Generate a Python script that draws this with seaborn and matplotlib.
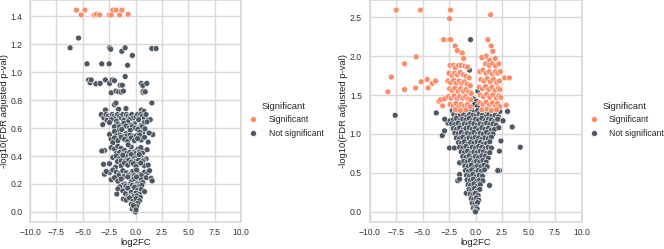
import numpy as np
import pandas as pd
import seaborn as sns
import matplotlib.pyplot as plt
from matplotlib.ticker import MultipleLocator

# ---- left panel data ----
left_sig_fc = [-5.6, -5.15, -4.8, -3.9, -3.7, -3.4, -2.5, -2.3, -2.15, -1.85, -1.5, -1.3, -0.7]
left_sig_p = [1.445, 1.41, 1.445, 1.41, 1.415, 1.41, 1.41, 1.41, 1.445, 1.445, 1.41, 1.445, 1.415]

left_ns_fc = [
    -6.2, -5.4, -4.6, -3.2, -2.5, -2.45, -2.35, -1.3, -0.98, -0.75, -0.3, 1.55, 1.95,
    -4.45, -4.3, -4.2, -3.75, -3.35, -2.85, -2.45, -2.2, -2.0, -1.45, -1.25, -0.98, 0.55, 0.7, 1.07,
    -2.3, -1.85, -1.6, -1.35, -1.15, 0.7, 0.75, 0.92,
    -2.0, -1.85, 1.55, -2.85, 0.55, 0.8, -1.6, -0.9,
    -3.25, -3.0, -2.8, -2.6, -2.4, -2.2, -2.05, -1.9, -1.7, -1.5, -1.35, -1.2, -1.0, -0.85, -0.7, -0.5,
    -0.35, -0.2, 0.05, 0.2, 0.35, 0.5, 0.65, 0.85, 1.0, 1.2, 1.4, -2.7, -2.3, -1.8, -1.1, -0.6, 0.3,
    -3.1, -2.46, -1.67, -1.36, -0.73, -0.09, 0.54, 0.85, -2.0, -1.1, -0.4, 0.2, 1.1,
    -1.5, -1.2, -0.9, -0.6, -0.3, 0.0, 0.3, 0.6,
    -2.46, -1.67, 0.22, 0.7, 1.64, -2.0, -1.3, -0.9, -0.5, 0.4, 0.9, 1.3,
    -1.8, -1.45, -1.15, -0.8, -0.5, -0.2, 0.1, 0.4,
    -2.31, -1.99, -1.67, -1.36, -1.04, -0.73, -0.41, 0.54, 0.85, -2.15, -0.1, 0.2, 1.2,
    -2.94, -2.31, -1.99, -1.67, -1.36, -1.04, -0.41, 0.22, 0.85, -3.19, -0.7, -0.1, 0.5, 1.1,
    -1.8, -1.5, -1.2, -0.85, -0.55, -0.25, 0.05, 0.35, 0.65,
    -2.15, -1.83, -1.52, -0.88, -0.41, -0.09, 0.22, 0.54, 1.01, -1.2, -0.6, 0.35, 0.75,
    -1.7, -1.35, -1.0, -0.65, -0.3, 0.0, 0.3, 0.65,
    -3.03, -2.46, -1.36, -1.04, -0.73, -0.41, 0.22, 0.85, -1.9, -0.2, 0.05, 0.5, 1.2,
    -2.94, -2.46, -2.78, -2.15, -1.83, -1.52, -1.2, -0.88, -0.25, 0.38, 0.85, 1.17, 1.33, -0.55, 0.1,
    -1.6, -1.05, -0.7, -0.4, -0.1, 0.2, 0.55,
    -2.31, -1.99, -1.67, -1.36, -1.04, -0.73, -0.41, -0.09, 0.22, 0.54, 1.01, 1.48, 1.58, -1.2, -0.55, 0.1, 0.4, 0.7,
    -1.5, -0.9, -0.6, -0.3, 0.0, 0.3, 0.6,
    -1.77, -1.67, -1.2, -0.73, -0.41, -0.09, 0.22, 0.54, 0.85, -0.95, -0.25, 0.05, 0.38,
    -0.7, -0.5, -0.15, 0.15, 0.45,
    -1.14, -0.88, -0.57, -0.25, 0.06, 0.38, -0.4, 0.2, -0.31, 0.0, -0.1, 0.1, -0.2, 0.05,
]
left_ns_p = [
    1.175, 1.245, 1.06, 1.06, 1.06, 1.175, 1.165, 1.15, 1.175, 1.05, 1.12, 1.17, 1.17,
    0.945, 0.925, 0.945, 0.917, 0.92, 0.945, 0.92, 0.945, 0.94, 0.907, 0.907, 0.969, 0.92, 0.905, 0.92,
    0.853, 0.865, 0.86, 0.858, 0.865, 0.855, 0.865, 0.86,
    0.768, 0.78, 0.78, 0.73, 0.73, 0.72, 0.735, 0.74,
    0.697, 0.673, 0.697, 0.685, 0.673, 0.697, 0.685, 0.673, 0.697, 0.685, 0.673, 0.697, 0.673, 0.697, 0.685, 0.673,
    0.697, 0.673, 0.685, 0.697, 0.673, 0.697, 0.685, 0.673, 0.697, 0.66, 0.66, 0.655, 0.66, 0.65, 0.655, 0.66, 0.66,
    0.625, 0.64, 0.63, 0.62, 0.645, 0.63, 0.62, 0.64, 0.61, 0.635, 0.62, 0.605, 0.645,
    0.61, 0.6, 0.615, 0.6, 0.61, 0.6, 0.6, 0.61,
    0.554, 0.58, 0.59, 0.57, 0.554, 0.575, 0.59, 0.56, 0.585, 0.57, 0.595, 0.565,
    0.545, 0.55, 0.54, 0.545, 0.55, 0.54, 0.545, 0.55,
    0.52, 0.53, 0.51, 0.535, 0.52, 0.505, 0.53, 0.515, 0.535, 0.495, 0.51, 0.525, 0.5,
    0.44, 0.46, 0.45, 0.47, 0.455, 0.44, 0.465, 0.45, 0.44, 0.436, 0.48, 0.43, 0.46, 0.445,
    0.42, 0.425, 0.415, 0.42, 0.425, 0.415, 0.42, 0.425, 0.42,
    0.39, 0.4, 0.38, 0.395, 0.41, 0.385, 0.4, 0.39, 0.38, 0.405, 0.375, 0.41, 0.37,
    0.36, 0.365, 0.36, 0.37, 0.365, 0.36, 0.37, 0.36,
    0.341, 0.345, 0.33, 0.35, 0.335, 0.355, 0.34, 0.33, 0.32, 0.345, 0.325, 0.35, 0.335,
    0.27, 0.282, 0.29, 0.3, 0.285, 0.275, 0.295, 0.28, 0.29, 0.27, 0.285, 0.282, 0.295, 0.265, 0.3,
    0.26, 0.255, 0.26, 0.25, 0.26, 0.255, 0.26,
    0.23, 0.245, 0.22, 0.235, 0.2, 0.25, 0.215, 0.24, 0.205, 0.23, 0.245, 0.24, 0.222, 0.19, 0.195, 0.25, 0.2, 0.21,
    0.18, 0.185, 0.18, 0.19, 0.185, 0.18, 0.19,
    0.128, 0.165, 0.15, 0.17, 0.14, 0.175, 0.155, 0.16, 0.145, 0.13, 0.12, 0.135, 0.125,
    0.11, 0.105, 0.11, 0.115, 0.105,
    0.092, 0.085, 0.1, 0.075, 0.095, 0.08, 0.055, 0.06, 0.021, 0.0, 0.035, 0.04, 0.045, 0.015,
]

# ---- right panel data ----
right_sig_fc = [
    -7.48, -5.19, -2.36, -2.45, 1.42, -3.0, -2.5, -2.35, -1.92, -1.73, -1.25, -1.13, 1.16, 1.48, 1.63, 1.86, 1.3, 1.0,
    -7.95, -8.27, -6.7, -6.7, -5.59, -5.66, -5.12, -4.56, -4.46, -4.08, -3.77, -3.46, -3.3, -2.92, -3.1,
    2.9, 2.75, 3.2,
    -2.4, -2.1, -1.9, -1.6, -1.35, -1.0, -0.75,
    -2.5, -2.2, -1.95, -1.7, -1.45, -1.15, -0.9, -0.6,
    -2.6, -2.35, -2.05, -1.8, -1.55, -1.3, -1.05, -0.8, -0.5,
    -2.45, -2.2, -1.95, -1.65, -1.4, -1.15, -0.9, -0.65, -0.4,
    -2.55, -2.3, -2.0, -1.75, -1.5, -1.2, -0.95, -0.7, -0.45,
    -2.4, -2.1, -1.85, -1.6, -1.35, -1.05, -0.75, -0.5,
    -1.9, -1.4, -0.9,
    0.6, 0.95, 1.3, 1.6, 1.9, 2.2,
    0.4, 0.7, 1.0, 1.3, 1.6, 1.9, 2.1, 2.35,
    0.5, 0.8, 1.1, 1.4, 1.7, 2.0, 2.25,
    0.35, 0.65, 0.95, 1.25, 1.55, 1.85, 2.15, 2.3,
    0.45, 0.75, 1.05, 1.35, 1.65, 1.95, 2.2, 2.4,
    0.4, 0.7, 1.0, 1.3, 1.6, 1.9, 2.1, 2.3,
    0.6, 1.1, 1.5, 2.0,
]
right_sig_p = [
    2.59, 2.59, 2.59, 2.48, 2.53, 2.21, 2.21, 2.21, 2.13, 2.07, 2.04, 1.97, 2.21, 2.13, 2.06, 1.97, 1.95, 2.0,
    1.73, 1.54, 1.9, 1.57, 1.99, 1.59, 1.67, 1.7, 1.59, 1.65, 1.68, 1.42, 1.44, 1.45, 1.36,
    1.37, 1.72, 1.72,
    1.88, 1.88, 1.85, 1.88, 1.88, 1.87, 1.86,
    1.78, 1.75, 1.78, 1.76, 1.79, 1.76, 1.74, 1.72,
    1.68, 1.66, 1.69, 1.65, 1.68, 1.65, 1.67, 1.64, 1.62,
    1.58, 1.56, 1.59, 1.55, 1.58, 1.55, 1.57, 1.54, 1.52,
    1.48, 1.46, 1.49, 1.45, 1.48, 1.46, 1.48, 1.45, 1.44,
    1.38, 1.36, 1.39, 1.35, 1.38, 1.36, 1.38, 1.35,
    1.31, 1.3, 1.31,
    1.98, 1.9, 1.88, 1.9, 1.87, 1.9,
    1.8, 1.82, 1.78, 1.8, 1.77, 1.8, 1.78, 1.8,
    1.7, 1.68, 1.71, 1.67, 1.7, 1.66, 1.68,
    1.6, 1.58, 1.61, 1.57, 1.6, 1.56, 1.59, 1.57,
    1.5, 1.48, 1.51, 1.47, 1.5, 1.46, 1.49, 1.47,
    1.4, 1.38, 1.41, 1.37, 1.4, 1.36, 1.39, 1.35,
    1.31, 1.32, 1.3, 1.31,
]

right_ns_fc = [
    -0.47, -0.57, 0.22, -7.58, -3.7, 3.02, 2.52, 3.46, 4.22, 2.26, 2.26, -3.14, -2.92, -2.6,
    -2.45, -1.98, -1.5, -1.67, -0.88, 1.32, 2.1, -0.2, 0.1, -0.1, 0.2, -1.5, -1.5,
    -2.2, -1.9, -1.6, -1.3, -1.0, -0.7, -0.4, -0.1, 0.2, 0.5, 0.8, 1.1, 1.4, 1.7, 2.0, 2.3,
    -2.05, -1.75, -1.45, -1.15, -0.85, -0.55, -0.25, 0.05, 0.35, 0.65, 0.95, 1.25, 1.55, 1.85, 2.15,
    -2.9, -2.4, -2.1, -1.8, -1.5, -1.2, -0.9, -0.6, -0.3, 0.0, 0.3, 0.6, 0.9, 1.2, 1.5, 1.8, 2.1, 2.6,
    -2.25, -1.95, -1.65, -1.35, -1.05, -0.75, -0.45, -0.15, 0.15, 0.45, 0.75, 1.05, 1.35, 1.65, 1.95,
    -2.1, -1.8, -1.5, -1.2, -0.9, -0.6, -0.3, 0.0, 0.3, 0.6, 0.9, 1.2, 1.5, 1.8, 2.2,
    -1.95, -1.65, -1.35, -1.05, -0.75, -0.45, -0.15, 0.15, 0.45, 0.75, 1.05, 1.35, 1.65,
    -1.8, -1.5, -1.2, -0.9, -0.6, -0.3, 0.0, 0.3, 0.6, 0.9, 1.2, 1.5,
    -1.6, -1.35, -1.05, -0.75, -0.45, -0.15, 0.15, 0.45, 0.75, 1.05, 1.35, 2.4,
    -1.5, -1.2, -0.9, -0.6, -0.3, 0.0, 0.3, 0.6, 0.9, 1.2, 1.5,
    -1.35, -1.05, -0.75, -0.45, -0.15, 0.15, 0.45, 0.75, 1.05, 1.35,
    -1.2, -0.9, -0.6, -0.3, 0.0, 0.3, 0.6, 0.9, 1.2,
    -1.1, -0.8, -0.5, -0.2, 0.1, 0.4, 0.7, 1.0,
    -1.0, -0.7, -0.4, -0.1, 0.2, 0.5, 0.8, 1.1,
    -0.95, -0.65, -0.35, -0.05, 0.25, 0.55, 0.85,
    -0.85, -0.55, -0.25, 0.05, 0.35, 0.65,
    -0.8, -0.5, -0.2, 0.1, 0.4, 0.7,
    -0.7, -0.45, -0.15, 0.15, 0.45,
    -0.6, -0.35, -0.1, 0.15, 0.4,
    -0.5, -0.25, 0.0, 0.25,
    -0.4, -0.15, 0.1, 0.3,
    -0.3, -0.05, 0.2,
    -0.2, 0.05, 0.15,
    -0.05, 0.0,
]
right_ns_p = [
    2.21, 1.82, 1.55, 1.24, 1.27, 1.29, 1.17, 1.09, 0.83, 0.53, 0.78, 0.98, 1.04, 1.14,
    0.82, 0.82, 0.63, 0.40, 0.24, 0.34, 0.53, 1.45, 1.42, 1.38, 1.36, 0.48, 0.42,
    1.3, 1.28, 1.31, 1.29, 1.27, 1.3, 1.32, 1.28, 1.3, 1.27, 1.31, 1.29, 1.28, 1.3, 1.27, 1.29,
    1.25, 1.23, 1.24, 1.26, 1.22, 1.25, 1.24, 1.23, 1.26, 1.24, 1.22, 1.25, 1.23, 1.24, 1.22,
    1.19, 1.17, 1.18, 1.2, 1.17, 1.19, 1.18, 1.2, 1.17, 1.19, 1.18, 1.2, 1.17, 1.19, 1.18, 1.16, 1.19, 1.17,
    1.13, 1.12, 1.14, 1.11, 1.13, 1.12, 1.14, 1.13, 1.11, 1.13, 1.12, 1.14, 1.12, 1.13, 1.11,
    1.07, 1.06, 1.08, 1.05, 1.07, 1.08, 1.06, 1.07, 1.05, 1.08, 1.06, 1.07, 1.05, 1.06, 1.08,
    1.01, 1.0, 1.02, 0.99, 1.01, 1.0, 1.02, 0.99, 1.01, 1.0, 1.02, 0.99, 1.0,
    0.95, 0.94, 0.96, 0.93, 0.95, 0.94, 0.96, 0.95, 0.93, 0.95, 0.94, 0.96,
    0.89, 0.88, 0.9, 0.87, 0.89, 0.88, 0.9, 0.89, 0.87, 0.88, 0.9, 0.91,
    0.83, 0.82, 0.84, 0.81, 0.83, 0.82, 0.84, 0.83, 0.81, 0.83, 0.82,
    0.77, 0.76, 0.78, 0.75, 0.77, 0.76, 0.78, 0.77, 0.75, 0.76,
    0.71, 0.7, 0.72, 0.69, 0.71, 0.7, 0.72, 0.71, 0.69,
    0.65, 0.64, 0.66, 0.63, 0.65, 0.64, 0.66, 0.64,
    0.59, 0.58, 0.6, 0.57, 0.59, 0.58, 0.6, 0.58,
    0.53, 0.52, 0.54, 0.51, 0.53, 0.52, 0.54,
    0.47, 0.46, 0.48, 0.45, 0.47, 0.46,
    0.41, 0.4, 0.42, 0.39, 0.41, 0.4,
    0.35, 0.34, 0.36, 0.33, 0.35,
    0.29, 0.28, 0.3, 0.27, 0.29,
    0.23, 0.22, 0.24, 0.21,
    0.17, 0.16, 0.18, 0.15,
    0.11, 0.1, 0.12,
    0.05, 0.06, 0.04,
    0.01, 0.0,
]

categories = ["Significant", "Not significant"]
colors = {"Significant": "#fa8c68", "Not significant": "#4e5863"}


def make_frame(sig_fc, sig_p, ns_fc, ns_p):
    df_sig = pd.DataFrame({"log2FC": sig_fc, "p": sig_p, "Significant": "Significant"})
    df_ns = pd.DataFrame({"log2FC": ns_fc, "p": ns_p, "Significant": "Not significant"})
    return pd.concat([df_ns, df_sig], ignore_index=True)


sns.set_theme(style="whitegrid")
plt.rcParams["font.family"] = ["Liberation Sans", "DejaVu Sans"]
plt.rcParams["axes.edgecolor"] = ".85"
plt.rcParams["grid.color"] = ".85"

fig = plt.figure(figsize=(6.64, 2.49), dpi=100)
ax1 = fig.add_axes([30 / 664, 27 / 249, 211 / 664, 222 / 249])
ax2 = fig.add_axes([369.5 / 664, 27 / 249, 212 / 664, 222 / 249])

panels = [
    (ax1, make_frame(left_sig_fc, left_sig_p, left_ns_fc, left_ns_p), 0.2),
    (ax2, make_frame(right_sig_fc, right_sig_p, right_ns_fc, right_ns_p), 0.5),
]

for ax, df, ystep in panels:
    sns.scatterplot(data=df, x="log2FC", y="p", hue="Significant", hue_order=categories,
                    palette=colors, s=18, linewidth=0.4, edgecolor="white", ax=ax)
    ax.set_xlim(-10, 10)
    ax.xaxis.set_major_locator(MultipleLocator(2.5))
    ax.yaxis.set_major_locator(MultipleLocator(ystep))
    ax.set_xlabel("log2FC", fontsize=6.8, labelpad=1)
    ax.set_ylabel("-log10(FDR adjusted p-val)", fontsize=6.8, labelpad=1)
    ax.tick_params(axis="x", labelsize=6.2, length=0, pad=4, colors="#333333")
    ax.tick_params(axis="y", labelsize=6.2, length=0, pad=5.5, colors="#333333")
    ax.xaxis.label.set_color("#222222")
    ax.yaxis.label.set_color("#222222")
    sns.move_legend(ax, "center left", bbox_to_anchor=(1, 0.46), frameon=False,
                    borderaxespad=0, fontsize=6.2, title_fontsize=6.8)

fig.savefig("out.png", dpi=100)
